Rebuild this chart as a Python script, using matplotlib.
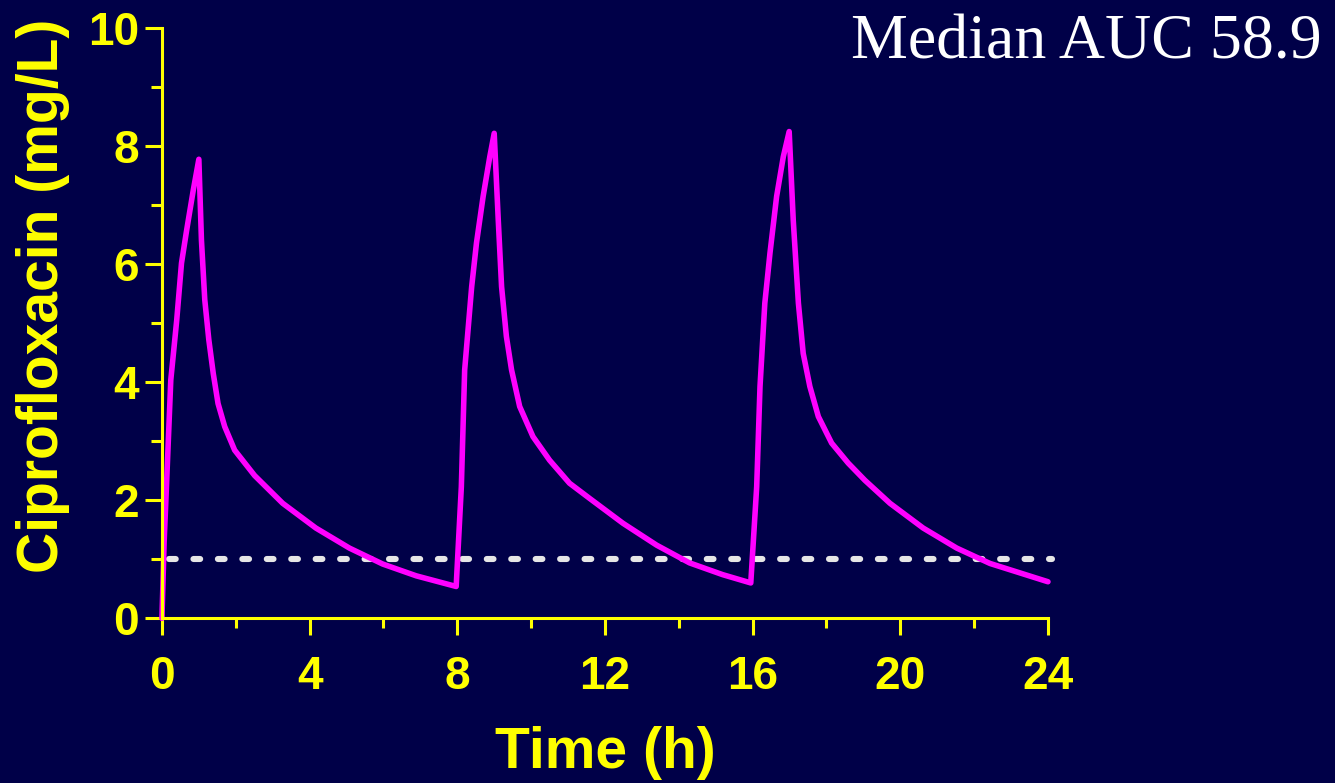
import numpy as np
import matplotlib
matplotlib.use("Agg")
import matplotlib.pyplot as plt
from matplotlib.ticker import MultipleLocator

BG = "#000048"
YELLOW = "#ffff00"
MAGENTA = "#ff00ff"

# concentration profile (three 8-hourly doses)
time_h = [0.0, 0.06, 0.13, 0.24, 0.4, 0.53, 0.67, 0.85, 1.0,
          1.07, 1.16, 1.27, 1.39, 1.52, 1.7, 1.97, 2.51, 3.27, 4.17, 5.08, 5.98, 6.89, 7.97,
          8.11, 8.2, 8.39, 8.52, 8.7, 8.88, 9.0,
          9.11, 9.2, 9.33, 9.47, 9.69, 10.05, 10.5, 11.04, 11.59, 12.49, 13.4, 14.29, 15.19, 15.95,
          16.11, 16.2, 16.33, 16.47, 16.65, 16.83, 16.99,
          17.1, 17.24, 17.37, 17.55, 17.78, 18.14, 18.59, 19.04, 19.72, 20.62, 21.53, 22.43, 24.0]
cipro = [0.0, 1.3, 2.35, 4.04, 5.05, 6.02, 6.58, 7.26, 7.78,
         6.41, 5.40, 4.72, 4.15, 3.64, 3.25, 2.85, 2.42, 1.95, 1.53, 1.19, 0.92, 0.72, 0.54,
         2.23, 4.21, 5.62, 6.36, 7.15, 7.82, 8.22,
         6.75, 5.62, 4.78, 4.21, 3.59, 3.08, 2.68, 2.29, 2.03, 1.61, 1.24, 0.94, 0.74, 0.60,
         2.23, 3.93, 5.34, 6.19, 7.15, 7.82, 8.25,
         6.75, 5.34, 4.49, 3.93, 3.42, 2.97, 2.63, 2.34, 1.95, 1.53, 1.19, 0.93, 0.62]
mic = 1.0
mic_range = [0.2, 24.1]
auc_text = "Median AUC 58.9"

fig = plt.figure(figsize=(13.35, 7.83), dpi=100, facecolor=BG)
ax = fig.add_axes([0.1213, 0.2103, 0.6637, 0.7536], facecolor=BG)

ax.plot(mic_range, [mic, mic], color="#e6e6e6", lw=4.4,
        linestyle=(0, (1.1, 2.9)), dash_capstyle="round", clip_on=False)
ax.plot(time_h, cipro, color=MAGENTA, lw=4.0, clip_on=False,
        solid_joinstyle="round", solid_capstyle="round")

ax.set_xlim(0, 24)
ax.set_ylim(0, 10)
ax.xaxis.set_major_locator(MultipleLocator(4))
ax.xaxis.set_minor_locator(MultipleLocator(2))
ax.yaxis.set_major_locator(MultipleLocator(2))
ax.yaxis.set_minor_locator(MultipleLocator(1))

for s in ["top", "right"]:
    ax.spines[s].set_visible(False)
for s in ["left", "bottom"]:
    ax.spines[s].set_color(YELLOW)
    ax.spines[s].set_linewidth(2.2)

ax.tick_params(which="both", color=YELLOW, width=2.2, direction="out")
ax.tick_params(which="major", length=12.5)
ax.tick_params(which="minor", length=7.5)
ax.tick_params(axis="y", which="minor", length=8)
ax.tick_params(axis="x", which="major", pad=14)
ax.tick_params(axis="y", which="major", pad=4)

for lab in ax.get_xticklabels() + ax.get_yticklabels():
    lab.set_fontfamily("Liberation Sans")
    lab.set_fontweight("bold")
    lab.set_fontsize(33)
    lab.set_color(YELLOW)

ax.set_xlabel("Time (h)", fontsize=41, fontweight="bold", color=YELLOW,
              family="Liberation Sans")
ax.xaxis.set_label_coords(0.5, -0.182)
ax.set_ylabel("Ciprofloxacin (mg/L)", fontsize=41, fontweight="bold", color=YELLOW,
              family="Liberation Sans")
ax.yaxis.set_label_coords(-0.104, 0.547)

fig.text(0.99, 0.945, auc_text, ha="right", va="center", fontsize=46,
         color="white", family="Liberation Serif")

fig.savefig("out.png", dpi=100, facecolor=BG)
